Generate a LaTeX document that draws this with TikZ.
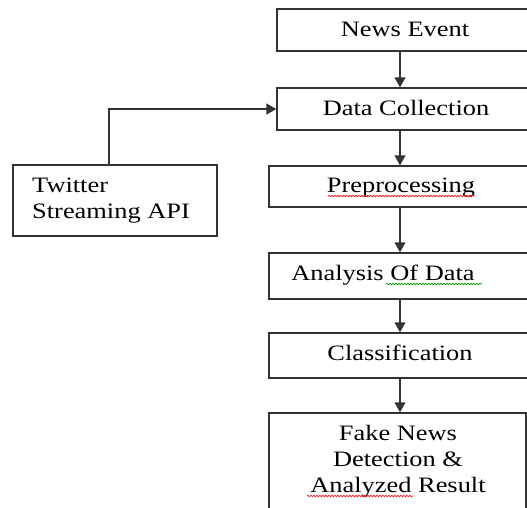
\documentclass[tikz,border=0pt]{standalone}
\usepackage{fontspec}
\usepackage{graphicx}
\setmainfont{Liberation Serif}
\newfontfamily\boxfont{Liberation Serif}
\usetikzlibrary{arrows.meta,decorations.pathmorphing}
% slightly widened lettering
\newcommand\widetxt[1]{\scalebox{1.2}[1]{#1}}
\begin{document}
\begin{tikzpicture}[x=1pt,y=-1pt,
  box/.style={draw=black!80, line width=1.4pt, rectangle, inner sep=0pt},
  txt/.style={inner sep=0pt, font=\boxfont\fontsize{22}{26}\selectfont, text=black},
  arr/.style={draw=black!80, line width=1.4pt, -{Triangle[length=10pt,width=11pt]}},
  squig/.style={line width=0.7pt, decorate, decoration={snake, amplitude=0.8pt, segment length=3pt}}]
\useasboundingbox (0,0) rectangle (527,507);
\clip (0,0) rectangle (527,507);

% boxes of the main flow
\node[box, minimum width=268pt, minimum height=42pt] (news) at (411,30) {};
\node[box, minimum width=268pt, minimum height=42pt] (data) at (411,109) {};
\node[box, minimum width=276pt, minimum height=41pt] (pre)  at (407,186.5) {};
\node[box, minimum width=276pt, minimum height=46pt] (ana)  at (407,276) {};
\node[box, minimum width=276pt, minimum height=45pt] (cls)  at (407,355.5) {};
\node[box, minimum width=257pt, minimum height=107pt] (fake) at (397.5,466.5) {};
% side source
\node[box, minimum width=204pt, minimum height=71pt] (tw) at (115,200.5) {};

% labels
\node[txt, anchor=base] (newsT) at (405,36)  {\widetxt{News Event}};
\node[txt, anchor=base] (dataT) at (406,115) {\widetxt{Data Collection}};
\node[txt, anchor=base] (preT)  at (401,192) {\widetxt{Preprocessing}};
\node[txt, anchor=base] (anaT)  at (383,280) {\widetxt{Analysis Of\ Data}};
\node[txt, anchor=base] (clsT)  at (400,360) {\widetxt{Classification}};
\node[txt] (fakeT) at (398,461) {\widetxt{\begin{tabular}{@{}c@{}}Fake News\\Detection \&\\Analyzed Result\end{tabular}}};
\node[txt, anchor=west] (twT) at (32,200) {\widetxt{\begin{tabular}{@{}l@{}}Twitter\\Streaming API\end{tabular}}};

% spell-check marks
\draw[squig, red!90] (328,196) -- (475,196);
\draw[squig, green!60!black] (386,284) -- (482,284);
\draw[squig, red!90] (307,496) -- (413,496);

% connectors
\coordinate (ax) at (400,0);
\coordinate (tx) at (109,0);
\draw[arr] (news.south -| ax) -- (data.north -| ax);
\draw[arr] (data.south -| ax) -- (pre.north -| ax);
\draw[arr] (pre.south -| ax) -- (ana.north -| ax);
\draw[arr] (ana.south -| ax) -- (cls.north -| ax);
\draw[arr] (cls.south -| ax) -- (fake.north -| ax);
\draw[arr] (tw.north -| tx) |- (data.west);
\end{tikzpicture}
\end{document}
